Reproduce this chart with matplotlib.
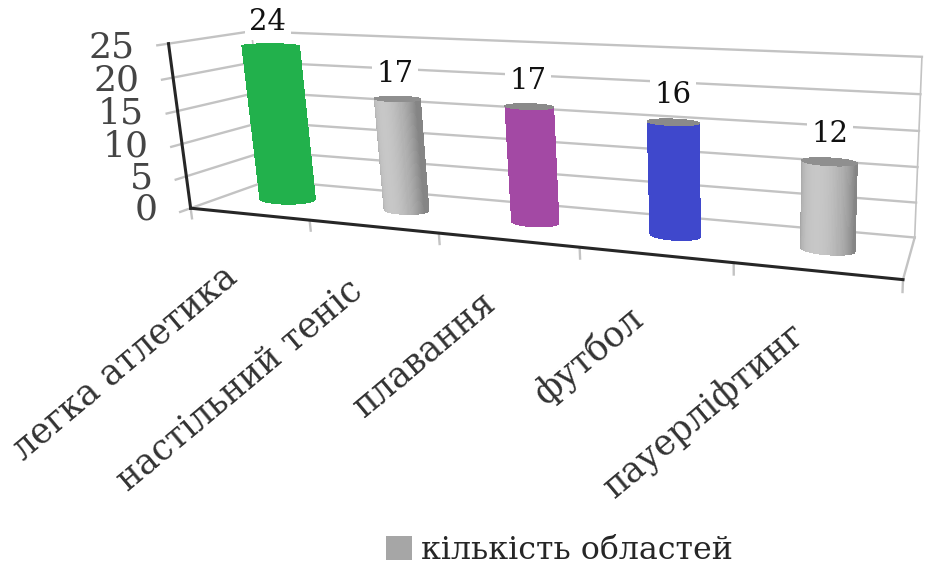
import numpy as np
import matplotlib
matplotlib.use("Agg")
import matplotlib.pyplot as plt
from matplotlib.colors import to_rgba
from matplotlib.patches import Patch
from mpl_toolkits.mplot3d import Axes3D  # noqa: F401

categories = ["легка атлетика", "настільний теніс", "плавання", "футбол", "пауерліфтинг"]
values = [24, 17, 17, 16, 12]
bar_colors = ["#22b14c", "#a6a6a6", "#a349a4", "#3f48cc", "#a6a6a6"]
shaded = [False, True, False, False, True]
y_ticks = [0, 5, 10, 15, 20, 25]
legend_label = "кількість областей"

# figure and a square 3D panel that covers the whole canvas
W, H, DPI = 925, 569, 100
SQ = 1200.0
fig = plt.figure(figsize=(W / DPI, H / DPI), dpi=DPI, facecolor="white")
ax = fig.add_axes([(1 - SQ / W) / 2, (1 - SQ / H) / 2, SQ / W, SQ / H],
                  projection="3d", computed_zorder=False)
ax.set_axis_off()

# camera and box settings (perspective view from the front-left, slightly above)
XLIM = (1.44747, 7.44747)
YLIM = (-5.90145, 2.35031)
ZLIM = (-33.5636, 87.8247)
VIEW_X = (-0.0683701, 0.0241354)
VIEW_Y = (-0.0639401, 0.0334287)
ELEV, AZIM, FOCAL = 11.5268, -74.8112, 0.070602


def setup_view():
    ax.set_box_aspect((6, 6, 6))
    ax.set_xlim(*XLIM)
    ax.set_ylim(*YLIM)
    ax.set_zlim(*ZLIM)
    ax.view_init(elev=ELEV, azim=AZIM, roll=0)
    ax.set_proj_type("persp", focal_length=FOCAL)


setup_view()
M = ax.get_proj()


def to2d(x, y, z):
    """Project a 3D data point onto the 2D plane of the 3D axes."""
    P = M @ np.array([x, y, z, 1.0])
    return P[0] / P[3], P[1] / P[3]


GRID = "#c3c3c3"
AXIS = "#262626"
SERIF = "DejaVu Serif"
nx = len(categories)
zmax = y_ticks[-1]
depth_ratio = (XLIM[1] - XLIM[0]) / (YLIM[1] - YLIM[0])


def seg(p, q, **kw):
    ax.plot([p[0], q[0]], [p[1], q[1]], [p[2], q[2]], **kw)


# walls, floor and gridlines
for z in y_ticks:
    seg((0, 1, z), (nx, 1, z), color=GRID, lw=1.7, zorder=1)
    seg((0, -0.12, z), (0, 1, z), color=GRID, lw=1.7, zorder=1)
seg((0, 1, 0), (0, 1, zmax), color=GRID, lw=1.2, zorder=1)
seg((nx, 1, 0), (nx, 1, zmax), color=GRID, lw=1.2, zorder=1)
seg((nx, 0, 0), (nx, 1, 0), color=GRID, lw=1.7, zorder=1)
for i in range(nx + 1):
    seg((i, 0, 0), (i, 0, -1.6), color=GRID, lw=1.7, zorder=1)
seg((0, 0, 0), (nx, 0, 0), color=AXIS, lw=2.2, zorder=2)
seg((0, 0, 0), (0, 0, zmax), color=AXIS, lw=2.2, zorder=2)

# value axis labels
for z in y_ticks:
    ax.annotate(str(z), xy=to2d(-0.3, 0, z - 0.8), xycoords="data",
                ha="right", va="center", fontsize=26, family=SERIF,
                color="#454545", annotation_clip=False)

# cylinders
theta = np.linspace(0, 2 * np.pi, 121)
light_ang = np.deg2rad(AZIM - 35)
lx, ly = np.cos(light_ang), np.sin(light_ang)
radii = [0.22, 0.17, 0.17, 0.17, 0.17]
for i, (v, col, sh, R) in enumerate(zip(values, bar_colors, shaded, radii)):
    xc, yc = i + 0.5, 0.5
    cx = xc + R * np.cos(theta)
    cy = yc + R * depth_ratio * np.sin(theta)
    X = np.vstack([cx, cx])
    Y = np.vstack([cy, cy])
    Z = np.vstack([np.zeros_like(theta), np.full_like(theta, v)])
    if sh:
        lum = 0.52 + 0.26 * np.clip(np.cos(theta) * lx + np.sin(theta) * ly, 0, 1)
        fc = np.ones((2, len(theta), 4))
        fc[..., :3] = lum[None, :, None]
        cap = "#8f8f8f"
    else:
        fc = np.tile(np.array(to_rgba(col)), (2, len(theta), 1))
        cap = col if i == 0 else "#8a8a8a"
    ax.plot_surface(X, Y, Z, facecolors=fc, shade=False, linewidth=0,
                    antialiased=False, rstride=1, cstride=1, zorder=3)
    Xc = np.vstack([np.full_like(theta, xc), cx])
    Yc = np.vstack([np.full_like(theta, yc), cy])
    ax.plot_surface(Xc, Yc, np.full_like(Xc, v), color=cap, shade=False,
                    linewidth=0, antialiased=False, zorder=3.5)
    ax.annotate(str(v), xy=to2d(xc, yc, v + 3.7), xycoords="data",
                ha="center", va="center", fontsize=21, family=SERIF,
                color="#111111", zorder=6, annotation_clip=False,
                bbox=dict(boxstyle="square,pad=0.15", fc="white", ec="none"))

# slanted category labels hung below the front edge
for i, c in enumerate(categories):
    ax.annotate(c, xy=to2d(i + 0.5, 0, 0), xycoords="data",
                xytext=(-19, -33), textcoords="offset points",
                rotation=40, rotation_mode="anchor", ha="right", va="top",
                fontsize=25, family=SERIF, color="#333333",
                annotation_clip=False)

# final view limits of the 2D canvas
setup_view()
ax.viewLim.intervalx = VIEW_X
ax.viewLim.intervaly = VIEW_Y

fig.legend([Patch(facecolor="#a6a6a6", edgecolor="none")], [legend_label],
           loc="center", bbox_to_anchor=(0.605, 0.033), frameon=False,
           prop={"family": SERIF, "size": 22.8}, handlelength=0.8,
           handleheight=0.8, handletextpad=0.3, labelcolor="#262626")

fig.savefig("out.png", dpi=DPI, facecolor="white")
